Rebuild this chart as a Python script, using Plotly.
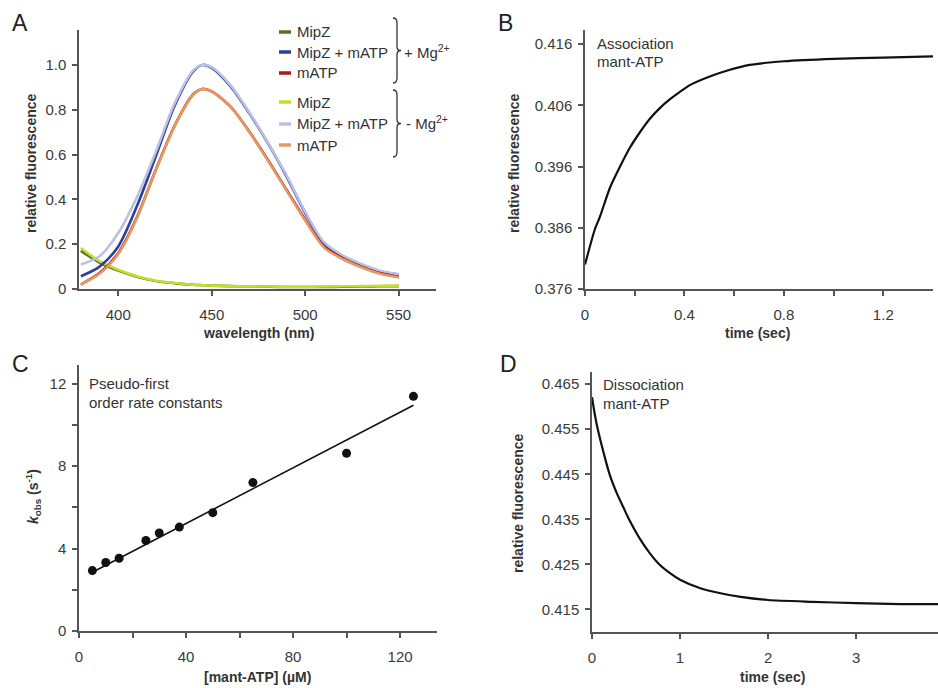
import plotly.graph_objects as go

W, H = 938, 688

# ---------------- Panel A data (emission spectra) ----------------
wl = [380, 390, 400, 410, 420, 430, 440, 445, 450, 460, 470, 480, 490, 500, 510, 520, 530, 540, 550]
mipz_mg = [0.170, 0.118, 0.082, 0.055, 0.036, 0.026, 0.019, 0.017, 0.015, 0.013, 0.012, 0.010, 0.009, 0.009, 0.009, 0.010, 0.011, 0.012, 0.013]
mipz_matp_mg = [0.057, 0.100, 0.190, 0.370, 0.590, 0.815, 0.970, 1.000, 0.987, 0.905, 0.786, 0.652, 0.503, 0.340, 0.205, 0.146, 0.109, 0.079, 0.064]
matp_mg = [0.020, 0.071, 0.160, 0.320, 0.530, 0.726, 0.868, 0.893, 0.882, 0.815, 0.704, 0.577, 0.443, 0.310, 0.190, 0.138, 0.100, 0.071, 0.054]
mipz_nomg = [0.183, 0.124, 0.086, 0.057, 0.037, 0.027, 0.019, 0.017, 0.015, 0.013, 0.012, 0.011, 0.010, 0.010, 0.011, 0.012, 0.013, 0.014, 0.015]
mipz_matp_nomg = [0.109, 0.146, 0.250, 0.410, 0.610, 0.825, 0.975, 1.000, 0.990, 0.910, 0.790, 0.655, 0.508, 0.345, 0.210, 0.150, 0.112, 0.082, 0.066]
matp_nomg = [0.020, 0.068, 0.156, 0.316, 0.528, 0.724, 0.866, 0.892, 0.882, 0.815, 0.702, 0.574, 0.440, 0.306, 0.186, 0.134, 0.097, 0.068, 0.052]
a_xticks = [400, 450, 500, 550]
a_yticks = [0, 0.2, 0.4, 0.6, 0.8, 1.0]
a_yticklabels = ["0", "0.2", "0.4", "0.6", "0.8", "1.0"]

# ---------------- Panel B data (association) ----------------
t_assoc = [0.0, 0.04, 0.06, 0.10, 0.141, 0.181, 0.221, 0.261, 0.30, 0.342, 0.382, 0.422, 0.502, 0.583, 0.663, 0.8, 1.0, 1.2, 1.4]
f_assoc = [0.3800, 0.3858, 0.3878, 0.3925, 0.3960, 0.3991, 0.4016, 0.4038, 0.4055, 0.4070, 0.4082, 0.4093, 0.4107, 0.4118, 0.4126, 0.4132, 0.4136, 0.4138, 0.4140]
b_xticks = [0, 0.4, 0.8, 1.2]
b_xminor = [0.2, 0.6, 1.0]
b_yticks = [0.376, 0.386, 0.396, 0.406, 0.416]

# ---------------- Panel C data (kobs vs concentration) ----------------
conc = [5, 10, 15, 25, 30, 37.5, 50, 65, 100, 125]
kobs = [2.93, 3.32, 3.53, 4.39, 4.75, 5.04, 5.74, 7.20, 8.62, 11.38]
fit_x = [5, 125]
fit_y = [2.85, 10.95]
c_xticks = [0, 40, 80, 120]
c_xminor = [20, 60, 100]
c_yticks = [0, 4, 8, 12]
c_yminor = [2, 6, 10]

# ---------------- Panel D data (dissociation) ----------------
t_dissoc = [0.0, 0.03, 0.06, 0.133, 0.2, 0.284, 0.36, 0.416, 0.55, 0.66, 0.76, 0.89, 1.0, 1.23, 1.46, 1.69, 2.0, 2.5, 3.0, 3.5, 3.93]
f_dissoc = [0.4621, 0.4585, 0.4555, 0.4497, 0.4450, 0.4407, 0.4375, 0.4352, 0.4305, 0.4274, 0.4251, 0.4230, 0.4216, 0.4197, 0.4186, 0.4178, 0.4171, 0.4167, 0.4164, 0.4162, 0.4162]
d_xticks = [0, 1, 2, 3]
d_yticks = [0.415, 0.425, 0.435, 0.445, 0.455, 0.465]

legend_labels = ["MipZ", "MipZ + mATP", "mATP", "MipZ", "MipZ + mATP", "mATP"]
legend_colors = ["#56702a", "#2b3f9c", "#b3151d", "#c8dc2c", "#bcc0e2", "#e39a62"]


def px(x):
    return x / W


def py(y):
    return 1 - y / H


FONT = "Liberation Sans, Arial, sans-serif"
TICKFONT = dict(family=FONT, size=15, color="#3a3a3a")

fig = go.Figure()

# Panel A traces
seriesA = [mipz_mg, mipz_matp_mg, matp_mg, mipz_nomg, mipz_matp_nomg, matp_nomg]
orderA = [0, 3, 1, 4, 2, 5]
for i in orderA:
    fig.add_trace(go.Scatter(x=wl, y=seriesA[i], mode="lines",
                             line=dict(color=legend_colors[i], width=2.6, shape="spline", smoothing=0.8),
                             xaxis="x", yaxis="y", showlegend=False))

# Panel B
fig.add_trace(go.Scatter(x=t_assoc, y=f_assoc, mode="lines",
                         line=dict(color="#111", width=2.2, shape="spline", smoothing=0.6),
                         xaxis="x2", yaxis="y2", showlegend=False))
# Panel C
fig.add_trace(go.Scatter(x=fit_x, y=fit_y, mode="lines", line=dict(color="#111", width=1.6),
                         xaxis="x3", yaxis="y3", showlegend=False))
fig.add_trace(go.Scatter(x=conc, y=kobs, mode="markers", marker=dict(color="#111", size=9),
                         xaxis="x3", yaxis="y3", showlegend=False))
# Panel D
fig.add_trace(go.Scatter(x=t_dissoc, y=f_dissoc, mode="lines",
                         line=dict(color="#111", width=2.2, shape="spline", smoothing=0.6),
                         xaxis="x4", yaxis="y4", showlegend=False))


def ax(domain, rng, tickvals, ticktext, anchor, standoff=3, minor=None):
    d = dict(domain=domain, range=rng, tickvals=tickvals, ticktext=ticktext, anchor=anchor,
             showline=True, linecolor="#555", linewidth=1.5, ticks="outside", ticklen=5,
             tickwidth=1.5, tickcolor="#555", showgrid=False, zeroline=False,
             tickfont=TICKFONT, ticklabelstandoff=standoff)
    if minor:
        d["minor"] = dict(tickmode="array", tickvals=minor, ticks="outside", ticklen=5,
                          tickwidth=1.5, tickcolor="#555", showgrid=False)
    return d


layout = dict(
    width=W, height=H, margin=dict(l=0, r=0, t=0, b=0, autoexpand=False),
    paper_bgcolor="white", plot_bgcolor="white", showlegend=False,
    xaxis=ax([px(79), px(436)], [379, 570], a_xticks, [str(v) for v in a_xticks], "y", 6),
    yaxis=ax([py(289), py(30)], [0, 1.156], a_yticks, a_yticklabels, "x", 3),
    xaxis2=ax([px(585), px(933)], [0, 1.40], b_xticks, ["0", "0.4", "0.8", "1.2"], "y2", 6, b_xminor),
    yaxis2=ax([py(289), py(30)], [0.376, 0.4183], b_yticks, [f"{v:.3f}" for v in b_yticks], "x2", 3),
    xaxis3=ax([px(79), px(437)], [0, 133.8], c_xticks, [str(v) for v in c_xticks], "y3", 6, c_xminor),
    yaxis3=ax([py(631), py(365)], [0, 12.9], c_yticks, [str(v) for v in c_yticks], "x3", 3, c_yminor),
    xaxis4=ax([px(592), px(938)], [0, 3.93], d_xticks, [str(v) for v in d_xticks], "y4", 6),
    yaxis4=ax([py(632), py(372)], [0.41, 0.4677], d_yticks, [f"{v:.3f}" for v in d_yticks], "x4", 3),
)
fig.update_layout(**layout)

ann = []
shapes = []


def text(x, y, s, size=15, bold=False, xanchor="left", textangle=0, color="#333"):
    ann.append(dict(x=px(x), y=py(y), xref="paper", yref="paper", text=s, showarrow=False,
                    xanchor=xanchor, yanchor="middle", textangle=textangle,
                    font=dict(family=FONT, size=size, color=color, weight="bold" if bold else "normal")))


# Panel letters
text(10, 23, "A", size=23, color="#222")
text(496, 23, "B", size=23, color="#222")
text(10, 364, "C", size=23, color="#222")
text(498, 364, "D", size=23, color="#222")

# Axis titles
text(258, 333, "wavelength (nm)", size=14, bold=True, xanchor="center")
text(31, 163, "relative fluorescence", size=14, bold=True, xanchor="center", textangle=-90)
text(757, 333, "time (sec)", size=14, bold=True, xanchor="center")
text(514, 163, "relative fluorescence", size=14, bold=True, xanchor="center", textangle=-90)
text(257, 677, "[mant-ATP] (µM)", size=14, bold=True, xanchor="center")
text(33, 497, "<i>k</i><sub>obs</sub> (s<sup>-1</sup>)", size=14, bold=True, xanchor="center", textangle=-90)
text(772, 677, "time (sec)", size=14, bold=True, xanchor="center")
text(518, 503, "relative fluorescence", size=14, bold=True, xanchor="center", textangle=-90)

# In-plot labels
text(595, 43, "Association", size=15)
text(595, 62, "mant-ATP", size=15)
text(87, 383, "Pseudo-first", size=15)
text(87, 402, "order rate constants", size=15)
text(601, 384, "Dissociation", size=15)
text(601, 403, "mant-ATP", size=15)

# Legend for panel A
rows_y = [32, 52, 73, 102, 124, 145]
for yy, lab, col in zip(rows_y, legend_labels, legend_colors):
    shapes.append(dict(type="line", xref="paper", yref="paper", x0=px(279), x1=px(291), y0=py(yy), y1=py(yy),
                       line=dict(color=col, width=3.5)))
    text(295, yy, lab, size=15)


def brace(x, y0, y1):
    ym = (y0 + y1) / 2
    pts = [
        f"M {px(x - 4)} {py(y0)}",
        f"Q {px(x)} {py(y0)} {px(x)} {py(y0 + 5)}",
        f"L {px(x)} {py(ym - 4)}",
        f"Q {px(x)} {py(ym)} {px(x + 4)} {py(ym)}",
        f"Q {px(x)} {py(ym)} {px(x)} {py(ym + 4)}",
        f"L {px(x)} {py(y1 - 5)}",
        f"Q {px(x)} {py(y1)} {px(x - 4)} {py(y1)}",
    ]
    shapes.append(dict(type="path", xref="paper", yref="paper", path=" ".join(pts),
                       line=dict(color="#333", width=1.3)))


brace(397, 18, 83)
brace(397, 90, 157)
text(402, 51, "+ Mg<sup>2+</sup>", size=15)
text(404, 123, "- Mg<sup>2+</sup>", size=15)

fig.update_layout(annotations=ann, shapes=shapes)
fig.write_html("out.html", config={"displayModeBar": False},
               post_script="document.body.style.margin='0';document.body.style.overflow='hidden';")
